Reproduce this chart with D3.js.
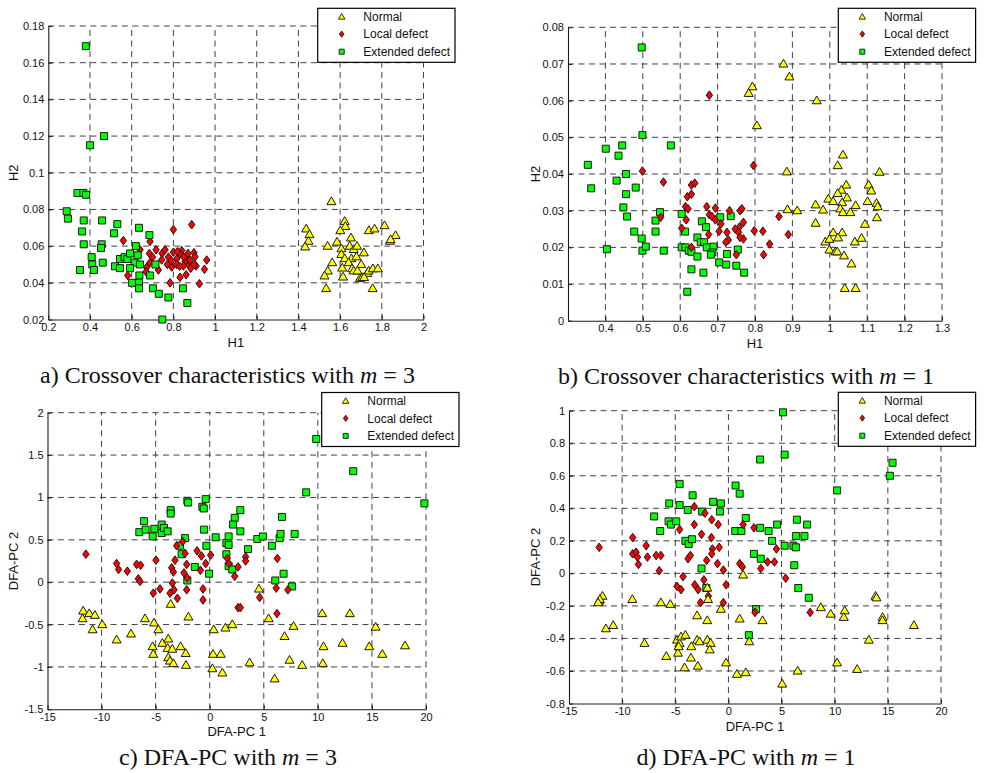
<!DOCTYPE html>
<html>
<head>
<meta charset="utf-8">
<script src="https://cdn.jsdelivr.net/npm/d3@7/dist/d3.min.js"></script>
<style>
  html, body { margin: 0; padding: 0; background: #fff; }
  svg { display: block; }
</style>
</head>
<body>
<svg id="fig" width="984" height="773"></svg>
<script>
// ---------- data: (x, y) pairs per class and panel ----------
const seriesNames = ["Normal", "Local defect", "Extended defect"];

// a) crossover characteristics, m = 3  (H1, H2)
const aNormal = [[1.558,0.0843],[1.437,0.0694],[1.453,0.0663],[1.448,0.0627],[1.432,0.0596],[1.54,0.060],[1.622,0.0735],[1.625,0.0708],[1.601,0.0685],[1.585,0.0622],[1.652,0.0645],[1.646,0.060],[1.606,0.0586],[1.606,0.0555],[1.665,0.0582],[1.681,0.060],[1.714,0.0564],[1.622,0.0532],[1.654,0.0532],[1.678,0.0542],[1.562,0.051],[1.541,0.0465],[1.525,0.0438],[1.533,0.0369],[1.614,0.0432],[1.61,0.0481],[1.641,0.051],[1.657,0.0477],[1.665,0.0465],[1.701,0.050],[1.683,0.0465],[1.694,0.0423],[1.706,0.0429],[1.73,0.0452],[1.737,0.0465],[1.757,0.0477],[1.781,0.0477],[1.756,0.0369],[1.738,0.0685],[1.765,0.0694],[1.813,0.0712],[1.866,0.0658],[1.839,0.0627],[1.842,0.0636],[1.715,0.0429]];
const aLocal = [[0.56,0.063],[0.581,0.044],[0.64,0.058],[0.688,0.0625],[0.717,0.058],[0.685,0.056],[0.746,0.056],[0.672,0.0485],[0.669,0.046],[0.688,0.051],[0.728,0.047],[0.744,0.0525],[0.776,0.054],[0.771,0.050],[0.792,0.0486],[0.80,0.069],[0.784,0.040],[0.80,0.0567],[0.816,0.053],[0.832,0.043],[0.84,0.0576],[0.861,0.0444],[0.864,0.053],[0.872,0.050],[0.832,0.0558],[0.816,0.050],[0.888,0.0717],[0.899,0.0564],[0.904,0.0542],[0.96,0.0524],[0.856,0.0515],[0.88,0.0524],[0.883,0.0479],[0.909,0.0492],[0.949,0.0474],[0.925,0.0395],[0.848,0.0492],[0.82,0.057],[0.85,0.054],[0.87,0.056],[0.76,0.058],[0.70,0.054],[0.79,0.052],[0.83,0.049],[0.90,0.050]];
const aExtended = [[0.38,0.169],[0.40,0.115],[0.467,0.120],[0.34,0.089],[0.368,0.089],[0.381,0.088],[0.288,0.079],[0.294,0.075],[0.37,0.074],[0.458,0.074],[0.362,0.068],[0.531,0.072],[0.515,0.067],[0.635,0.070],[0.685,0.066],[0.37,0.061],[0.456,0.061],[0.453,0.059],[0.62,0.060],[0.408,0.054],[0.411,0.050],[0.419,0.047],[0.352,0.047],[0.461,0.051],[0.52,0.049],[0.544,0.053],[0.544,0.048],[0.566,0.054],[0.579,0.053],[0.592,0.056],[0.629,0.055],[0.614,0.051],[0.592,0.048],[0.64,0.050],[0.602,0.040],[0.637,0.044],[0.635,0.040],[0.635,0.037],[0.688,0.044],[0.702,0.037],[0.714,0.050],[0.73,0.034],[0.776,0.032],[0.747,0.020],[0.846,0.037],[0.867,0.029]];

// b) crossover characteristics, m = 1  (H1, H2)
const bNormal = [[0.876,0.070],[0.892,0.0665],[0.793,0.0638],[0.783,0.062],[0.965,0.060],[0.805,0.0532],[0.885,0.0406],[0.887,0.0303],[0.913,0.030],[0.962,0.0316],[0.962,0.0266],[1.035,0.0452],[1.021,0.0423],[1.133,0.0405],[1.044,0.037],[1.031,0.0356],[1.104,0.037],[1.111,0.0354],[1.021,0.0347],[1.046,0.0335],[0.996,0.0332],[1.009,0.0325],[1.033,0.0322],[1.101,0.0325],[1.125,0.032],[1.128,0.0311],[1.069,0.0314],[0.982,0.0302],[1.028,0.0305],[1.035,0.0295],[1.055,0.0295],[1.126,0.0281],[1.094,0.0263],[1.009,0.024],[1.033,0.024],[1.022,0.0226],[0.988,0.0215],[0.999,0.0222],[1.067,0.0215],[1.085,0.0225],[0.999,0.0193],[1.015,0.0188],[1.02,0.0188],[1.038,0.0177],[1.058,0.0155],[1.04,0.0088],[1.069,0.0088]];
const bLocal = [[0.499,0.0408],[0.555,0.0378],[0.548,0.0282],[0.614,0.0311],[0.621,0.0305],[0.616,0.0275],[0.604,0.0252],[0.619,0.0338],[0.63,0.0345],[0.63,0.037],[0.639,0.0375],[0.63,0.020],[0.678,0.0615],[0.796,0.0423],[0.671,0.0311],[0.694,0.0307],[0.732,0.030],[0.76,0.030],[0.765,0.0305],[0.678,0.0289],[0.685,0.0284],[0.694,0.0275],[0.709,0.0264],[0.769,0.0268],[0.758,0.0255],[0.747,0.025],[0.756,0.0241],[0.704,0.0244],[0.725,0.0241],[0.676,0.0235],[0.769,0.0223],[0.76,0.0227],[0.729,0.022],[0.722,0.0214],[0.798,0.0245],[0.821,0.0244],[0.864,0.0284],[0.889,0.0235],[0.839,0.0209],[0.823,0.018],[0.75,0.018]];
const bExtended = [[0.497,0.0745],[0.499,0.0506],[0.575,0.0478],[0.401,0.0469],[0.445,0.0478],[0.435,0.045],[0.353,0.0425],[0.455,0.040],[0.43,0.0382],[0.362,0.0361],[0.481,0.0363],[0.455,0.0345],[0.448,0.0309],[0.458,0.0284],[0.546,0.0296],[0.534,0.0273],[0.534,0.0243],[0.477,0.0243],[0.497,0.0224],[0.499,0.0191],[0.508,0.0202],[0.404,0.0195],[0.556,0.0191],[0.604,0.0291],[0.613,0.0243],[0.604,0.020],[0.614,0.020],[0.623,0.0191],[0.63,0.0188],[0.63,0.014],[0.619,0.0079],[0.707,0.0282],[0.735,0.0285],[0.658,0.0271],[0.669,0.0255],[0.646,0.0227],[0.655,0.0214],[0.664,0.0214],[0.671,0.020],[0.689,0.0202],[0.686,0.0186],[0.646,0.0175],[0.682,0.018],[0.725,0.0182],[0.754,0.0194],[0.704,0.0159],[0.723,0.0153],[0.75,0.015],[0.771,0.0131],[0.662,0.0131]];

// c) DFA-PC, m = 3  (PC 1, PC 2)
const cNormal = [[-11.7,-0.34],[-11.76,-0.43],[-11.14,-0.37],[-10.62,-0.39],[-10.83,-0.56],[-9.94,-0.50],[-8.61,-0.68],[-7.28,-0.61],[-5.99,-0.43],[-5.15,-0.48],[-4.75,-0.56],[-3.61,-0.26],[-5.28,-0.76],[-5.22,-0.85],[-4.38,-0.72],[-3.83,-0.67],[-3.89,-0.78],[-3.46,-0.79],[-3.83,-0.89],[-3.67,-0.93],[-3.36,-0.96],[-2.69,-0.76],[-2.22,-0.84],[-2.19,-0.98],[-1.97,-0.41],[4.55,-0.08],[5.45,-0.43],[0.37,-0.56],[1.45,-0.54],[2.09,-0.50],[6.92,-0.64],[7.75,-0.52],[0.31,-0.85],[1.02,-0.85],[0.25,-1.02],[1.17,-1.07],[3.69,-0.95],[7.38,-0.92],[8.55,-0.98],[6.0,-1.14],[10.4,-0.37],[10.52,-0.76],[10.46,-0.96],[12.96,-0.37],[15.34,-0.53],[12.28,-0.72],[14.75,-0.76],[15.96,-0.85],[18.06,-0.75]];
const cLocal = [[-11.45,0.33],[-8.61,0.22],[-8.43,0.15],[-7.62,0.13],[-6.76,0.21],[-6.39,0.20],[-6.6,0.04],[-6.45,0.01],[-4.97,0.26],[-5.22,-0.13],[-4.6,-0.08],[-3.67,-0.13],[-3.52,0.17],[-3.36,0.12],[-3.21,0.26],[-3.06,0.43],[-2.5,0.48],[-3.46,-0.01],[-3.3,-0.09],[-2.99,-0.19],[-2.28,0.34],[-2.13,0.21],[-2.38,0.11],[-2.07,0.05],[-2.13,-0.09],[-1.17,0.37],[-0.77,0.31],[0.09,0.32],[-0.37,0.22],[-0.86,0.14],[-0.62,-0.08],[-0.62,-0.21],[1.63,0.28],[1.78,0.22],[2.62,0.18],[2.31,0.07],[3.32,0.30],[3.32,0.25],[6.25,0.28],[4.62,-0.18],[6.15,-0.07],[7.23,-0.09],[6.22,-0.37],[2.62,-0.30],[2.83,-0.30]];
const cExtended = [[-6.08,0.72],[-6.51,0.59],[-5.93,0.62],[-5.28,0.54],[-5.12,0.63],[-4.44,0.68],[-4.44,0.58],[-4.23,0.64],[-3.89,0.60],[-3.61,0.85],[-3.61,0.81],[-2.28,0.52],[-2.07,0.96],[-2.75,0.43],[-2.6,0.33],[-2.07,0.02],[9.85,1.69],[8.92,1.06],[-2.0,0.94],[-0.37,0.98],[-0.68,0.89],[-0.55,0.87],[2.83,0.85],[2.31,0.76],[2.15,0.68],[2.83,0.60],[-0.52,0.62],[6.68,0.77],[0.55,0.53],[1.75,0.54],[1.54,0.46],[1.75,0.44],[-0.31,0.43],[3.54,0.39],[4.4,0.51],[4.92,0.54],[5.75,0.43],[6.46,0.52],[6.55,0.57],[7.85,0.57],[1.54,0.33],[-1.38,0.18],[-0.06,0.10],[1.75,0.19],[2.09,0.15],[6.83,0.10],[6.06,0.02],[7.6,-0.05],[13.27,1.31],[19.85,0.93]];

// d) DFA-PC, m = 1  (PC 1, PC 2)
const dNormal = [[-12.16,-0.17],[-11.85,-0.14],[-12.1,-0.16],[-12.26,-0.18],[-11.53,-0.34],[-10.84,-0.32],[-9.04,-0.16],[-7.9,-0.43],[-6.36,-0.18],[-5.47,-0.19],[-5.85,-0.51],[-4.75,-0.49],[-4.84,-0.41],[-4.59,-0.43],[-4.46,-0.39],[-4.05,-0.38],[-4.68,-0.45],[1.38,-0.01],[-1.99,-0.09],[-1.92,-0.16],[-0.71,-0.22],[-2.95,-0.26],[-1.99,-0.29],[1.06,-0.28],[3.21,-0.29],[-2.95,-0.41],[-2.72,-0.42],[-1.99,-0.41],[-1.67,-0.43],[-3.49,-0.45],[-1.76,-0.47],[-3.53,-0.52],[-2.88,-0.57],[-4.13,-0.58],[-0.22,-0.55],[0.8,-0.62],[1.63,-0.61],[5.06,-0.68],[6.51,-0.60],[1.96,-0.42],[8.69,-0.21],[9.62,-0.25],[13.84,-0.14],[13.93,-0.15],[10.94,-0.23],[10.85,-0.27],[14.5,-0.27],[14.5,-0.29],[17.45,-0.32],[13.21,-0.41],[10.22,-0.55],[12.11,-0.59]];
const dLocal = [[-12.16,0.16],[-9.01,0.22],[-9.01,0.12],[-8.69,0.13],[-8.56,0.10],[-8.47,0.055],[-7.74,0.17],[-7.62,0.10],[-6.8,0.11],[-6.36,0.11],[-6.51,0.016],[-4.59,0.27],[-4.27,-0.02],[-4.84,-0.08],[-4.46,-0.10],[-3.8,0.09],[-3.58,0.11],[-3.21,0.41],[-2.21,0.37],[-1.57,0.33],[-0.96,0.30],[-3.21,0.30],[-2.53,0.24],[-1.6,0.22],[-0.87,0.16],[-1.51,0.15],[-1.57,0.12],[-2.05,0.08],[-1.03,0.06],[-0.48,0.02],[-2.31,-0.04],[-3.17,-0.07],[-2.85,-0.10],[-1.89,-0.14],[-2.63,-0.18],[-0.22,-0.07],[-0.48,-0.18],[1.38,0.30],[2.4,0.28],[1.06,0.06],[1.31,0.04],[3.04,0.03],[3.68,0.07],[4.33,0.07],[4.52,0.15],[5.38,-0.03],[2.5,-0.24],[7.69,-0.24]];
const dExtended = [[-4.59,0.55],[-5.57,0.43],[-4.59,0.42],[-3.83,0.39],[-6.99,0.35],[-5.63,0.32],[-5.41,0.30],[-4.91,0.32],[-6.42,0.26],[-4.05,0.20],[-3.74,0.18],[5.13,0.99],[5.29,0.73],[2.98,0.70],[0.67,0.54],[1.06,0.49],[-3.37,0.48],[-1.44,0.44],[-0.71,0.43],[-0.8,0.38],[-2.47,0.38],[1.63,0.34],[0.64,0.26],[1.22,0.26],[2.98,0.28],[3.78,0.26],[4.58,0.30],[4.1,0.20],[6.44,0.33],[7.4,0.30],[6.35,0.23],[7.15,0.23],[5.29,0.17],[6.12,0.17],[6.35,0.16],[-3.43,0.21],[2.4,0.12],[3.04,0.09],[-2.53,0.03],[6.19,0.05],[6.57,-0.09],[7.56,-0.15],[2.6,-0.22],[-2.08,-0.09],[1.92,-0.38],[15.44,0.68],[15.19,0.60],[10.22,0.51]];

// tick values
const aXTicks = [0.2,0.4,0.6,0.8,1,1.2,1.4,1.6,1.8,2];
const aYTicks = [0.02,0.04,0.06,0.08,0.1,0.12,0.14,0.16,0.18];
const bXTicks = [0.4,0.5,0.6,0.7,0.8,0.9,1,1.1,1.2,1.3];
const bYTicks = [0,0.01,0.02,0.03,0.04,0.05,0.06,0.07,0.08];
const cXTicks = [-15,-10,-5,0,5,10,15,20];
const cYTicks = [-1.5,-1,-0.5,0,0.5,1,1.5,2];
const dXTicks = [-15,-10,-5,0,5,10,15,20];
const dYTicks = [-0.8,-0.6,-0.4,-0.2,0,0.2,0.4,0.6,0.8,1];

// ---------- styling ----------
const SANS = "'Liberation Sans', Arial, Helvetica, sans-serif";
const SERIF = "'Liberation Serif', 'Times New Roman', Times, serif";
const GRID = "#2b2b2b";
const EDGE = "#1a1a1a";
const FILLS = { normal: "#ffff00", local: "#ff0000", extended: "#00ff00" };

// marker outlines, centred on the data point; k scales them down for the legend
const shapes = {
  normal: k => `M0,${-4.7*k}L${4.5*k},${3.1*k}L${-4.5*k},${3.1*k}Z`,
  local: k => `M0,${-4.3*k}L${3.2*k},0L0,${4.3*k}L${-3.2*k},0Z`,
  extended: k => `M${-3.5*k},${-3.5*k}H${3.5*k}V${3.5*k}H${-3.5*k}Z`
};

const panels = [
  { id: "a", x0: 48.3, x1: 423.5, top: 26, bottom: 319.5,
    xDomain: [0.2, 2], yDomain: [0.02, 0.18], xTicks: aXTicks, yTicks: aYTicks,
    xLabel: "H1", yLabel: "H2", yLabelX: 18, legend: [317.7, 8.3],
    caption: { x: 227.5, y: 383, lead: "a) Crossover characteristics with ", tail: " = 3" },
    data: { normal: aNormal, local: aLocal, extended: aExtended },
    order: ["normal", "local", "extended"] },
  { id: "b", x0: 568, x1: 942, top: 27.3, bottom: 320.7,
    xDomain: [0.3, 1.3], yDomain: [0, 0.08], xTicks: bXTicks, yTicks: bYTicks,
    xLabel: "H1", yLabel: "H2", yLabelX: 540, legend: [838.3, 8.3],
    caption: { x: 746, y: 384, lead: "b) Crossover characteristics with ", tail: " = 1" },
    data: { normal: bNormal, local: bLocal, extended: bExtended },
    order: ["normal", "extended", "local"] },
  { id: "c", x0: 47.5, x1: 426, top: 412.7, bottom: 709.3,
    xDomain: [-15, 20], yDomain: [-1.5, 2], xTicks: cXTicks, yTicks: cYTicks,
    xLabel: "DFA-PC 1", yLabel: "DFA-PC 2", yLabelX: 18, legend: [321.7, 392.5],
    caption: { x: 228, y: 765, lead: "c) DFA-PC with ", tail: " = 3" },
    data: { normal: cNormal, local: cLocal, extended: cExtended },
    order: ["extended", "local", "normal"] },
  { id: "d", x0: 569, x1: 941, top: 410.7, bottom: 703.5,
    xDomain: [-15, 20], yDomain: [-0.8, 1], xTicks: dXTicks, yTicks: dYTicks,
    xLabel: "DFA-PC 1", yLabel: "DFA-PC 2", yLabelX: 539.5, legend: [838.3, 392.3],
    caption: { x: 746, y: 765, lead: "d) DFA-PC with ", tail: " = 1" },
    data: { normal: dNormal, local: dLocal, extended: dExtended },
    order: ["extended", "local", "normal"] }
];

const svg = d3.select("#fig");
const keys = ["normal", "local", "extended"];

panels.forEach(p => {
  const x = d3.scaleLinear().domain(p.xDomain).range([p.x0, p.x1]);
  const y = d3.scaleLinear().domain(p.yDomain).range([p.bottom, p.top]);
  const g = svg.append("g").attr("class", "panel-" + p.id);

  // dashed grid (also closes the box on the top and right sides)
  const grid = g.append("g")
    .attr("stroke", GRID).attr("stroke-width", 0.9).attr("stroke-dasharray", "6,4.5");
  grid.selectAll("line.vx").data(p.xTicks.filter(t => t > p.xDomain[0])).join("line")
    .attr("class", "vx")
    .attr("x1", d => x(d)).attr("x2", d => x(d))
    .attr("y1", p.bottom).attr("y2", p.top);
  grid.selectAll("line.hy").data(p.yTicks.filter(t => t > p.yDomain[0])).join("line")
    .attr("class", "hy")
    .attr("x1", p.x0).attr("x2", p.x1)
    .attr("y1", d => y(d)).attr("y2", d => y(d));

  // axes with inward ticks
  const fmt = d => String(d);
  const xa = g.append("g").attr("transform", `translate(0,${p.bottom})`)
    .call(d3.axisBottom(x).tickValues(p.xTicks).tickFormat(fmt)
      .tickSizeInner(-4).tickSizeOuter(0).tickPadding(4));
  const ya = g.append("g").attr("transform", `translate(${p.x0},0)`)
    .call(d3.axisLeft(y).tickValues(p.yTicks).tickFormat(fmt)
      .tickSizeInner(-4).tickSizeOuter(0).tickPadding(4));
  [xa, ya].forEach(ax => {
    ax.select(".domain").attr("stroke", EDGE).attr("stroke-width", 1.1);
    ax.selectAll(".tick line").attr("stroke", EDGE);
    ax.selectAll(".tick text").attr("fill", "#111")
      .style("font-family", SANS).style("font-size", "11px");
  });

  // axis titles
  g.append("text")
    .attr("x", (p.x0 + p.x1) / 2).attr("y", p.bottom + 27)
    .attr("text-anchor", "middle")
    .style("font-family", SANS).style("font-size", "13px").attr("fill", "#111")
    .text(p.xLabel);
  g.append("text")
    .attr("transform", `translate(${p.yLabelX},${(p.top + p.bottom) / 2}) rotate(-90)`)
    .attr("text-anchor", "middle")
    .style("font-family", SANS).style("font-size", "13px").attr("fill", "#111")
    .text(p.yLabel);

  // scatter markers
  p.order.forEach(k => {
    g.append("g").attr("class", "series-" + k)
      .selectAll("path").data(p.data[k]).join("path")
      .attr("transform", d => `translate(${x(d[0])},${y(d[1])})`)
      .attr("d", shapes[k](1))
      .attr("fill", FILLS[k]).attr("stroke", EDGE).attr("stroke-width", 1);
  });

  // legend
  const [lx, ly] = p.legend;
  const lg = g.append("g").attr("transform", `translate(${lx},${ly})`);
  lg.append("rect").attr("width", 137.3).attr("height", 54)
    .attr("fill", "#fff").attr("stroke", "#000").attr("stroke-width", 1.2);
  const rowY = [8.6, 25.8, 43.4];
  keys.forEach((k, i) => {
    lg.append("path")
      .attr("transform", `translate(24,${rowY[i]})`)
      .attr("d", shapes[k](0.72))
      .attr("fill", FILLS[k]).attr("stroke", EDGE).attr("stroke-width", 0.9);
    lg.append("text")
      .attr("x", 45.6).attr("y", rowY[i]).attr("dy", "0.36em")
      .style("font-family", SANS).style("font-size", "12px").attr("fill", "#111")
      .text(seriesNames[i]);
  });

  // caption under the panel
  const cap = svg.append("text")
    .attr("x", p.caption.x).attr("y", p.caption.y)
    .attr("text-anchor", "middle")
    .style("font-family", SERIF).style("font-size", "24px").attr("fill", "#111");
  cap.append("tspan").text(p.caption.lead);
  cap.append("tspan").style("font-style", "italic").text("m");
  cap.append("tspan").text(p.caption.tail);
});
</script>
</body>
</html>
